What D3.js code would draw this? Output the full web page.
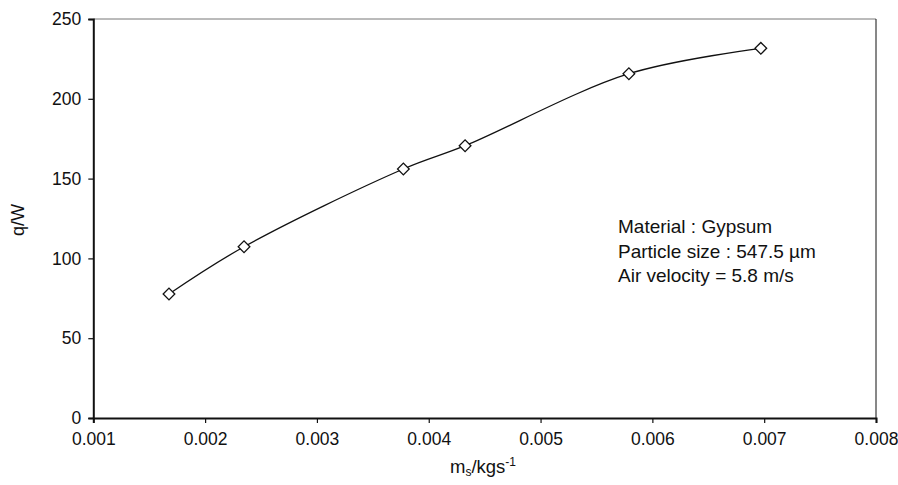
<!DOCTYPE html>
<html><head><meta charset="utf-8">
<script src="https://cdn.jsdelivr.net/npm/d3@7"></script>
<style>body{margin:0;background:#fff}svg{display:block}text{font-family:"Liberation Sans",Arial,sans-serif;fill:#111}</style>
</head><body>
<svg id="c" width="898" height="485"></svg>
<script>
const massFlow = [0.001677, 0.002348, 0.003773, 0.004325, 0.00579, 0.00697];
const heat = [77.7, 107.3, 156, 170.6, 215.7, 231.6];
const xTicks = [0.001, 0.002, 0.003, 0.004, 0.005, 0.006, 0.007, 0.008];
const yTicks = [0, 50, 100, 150, 200, 250];
const notes = ["Material : Gypsum", "Particle size : 547.5 \u00b5m", "Air velocity = 5.8 m/s"];

const svg = d3.select("#c");
const L = 93.3, R = 876, T = 19, B = 418;
const x = d3.scaleLinear().domain([0.001, 0.008]).range([L, R]);
const y = d3.scaleLinear().domain([0, 250]).range([B, T]);

svg.append("line").attr("x1", L).attr("x2", R).attr("y1", T).attr("y2", T).attr("stroke", "#777").attr("stroke-width", 1);
svg.append("line").attr("x1", R).attr("x2", R).attr("y1", T).attr("y2", B).attr("stroke", "#111").attr("stroke-width", 1);

const fs = 17.5;
const xa = svg.append("g").attr("transform", `translate(0,${B})`)
  .call(d3.axisBottom(x).tickValues(xTicks).tickFormat(d3.format(".3f")).tickSizeOuter(0).tickSize(5).tickPadding(6));
const ya = svg.append("g").attr("transform", `translate(${L},0)`)
  .call(d3.axisLeft(y).tickValues(yTicks).tickSizeOuter(0).tickSize(5).tickPadding(7));
[xa, ya].forEach(a => {
  a.select(".domain").attr("stroke", "#111").attr("stroke-width", 2);
  a.selectAll(".tick line").attr("stroke", "#111").attr("stroke-width", 1.2);
  a.selectAll(".tick text").attr("font-size", fs).attr("font-family", "Liberation Sans, Arial, sans-serif").attr("fill", "#111");
});
xa.selectAll(".tick text").attr("dy", "0.9em");

const pts = massFlow.map((m, i) => [m, heat[i]]);
svg.append("path").datum(pts)
  .attr("d", d3.line().x(d => x(d[0])).y(d => y(d[1])).curve(d3.curveCatmullRom.alpha(0.5)))
  .attr("fill", "none").attr("stroke", "#111").attr("stroke-width", 1.3);

svg.selectAll(".pt").data(pts).join("path").attr("class", "pt")
  .attr("transform", d => `translate(${x(d[0])},${y(d[1])}) rotate(45)`)
  .attr("d", d3.symbol().type(d3.symbolSquare).size(68))
  .attr("fill", "#fff").attr("stroke", "#111").attr("stroke-width", 1.3);

svg.append("g").selectAll("text").data(notes).join("text")
  .attr("x", 618).attr("y", (d, i) => 233 + i * 24.5)
  .attr("font-size", 19).text(d => d);

svg.append("text").attr("transform", `translate(24,220) rotate(-90)`)
  .attr("text-anchor", "middle").attr("font-size", 18).text("q/W");
const xfs = 18.5;
const xt = svg.append("text").attr("x", 483).attr("y", 473).attr("text-anchor", "middle").attr("font-size", xfs);
xt.append("tspan").text("m");
xt.append("tspan").attr("font-size", xfs * 0.65).attr("dy", 3).text("s");
xt.append("tspan").attr("dy", -3).text("/kgs");
xt.append("tspan").attr("font-size", xfs * 0.65).attr("dy", -7).text("-1");
</script>
</body></html>
